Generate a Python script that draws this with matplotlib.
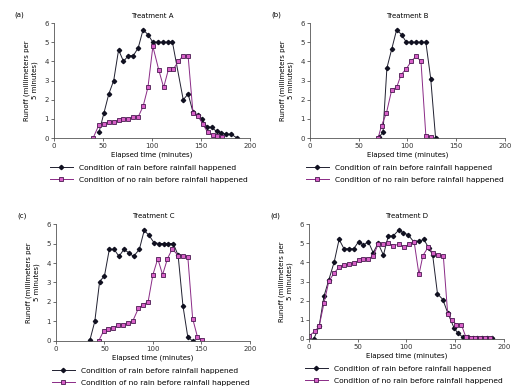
import matplotlib
matplotlib.use("Agg")
from matplotlib import pyplot as plt

# Treatment A
a_rain_t = [46, 51, 56, 61, 66, 71, 76, 81, 86, 91, 96, 101, 106, 111, 116, 121, 132, 137, 142, 147, 151, 156, 161, 166, 171, 176, 181, 187]
a_rain_v = [0.3, 1.3, 2.3, 3.0, 4.6, 4.0, 4.3, 4.3, 4.7, 5.65, 5.4, 5.0, 5.0, 5.0, 5.0, 5.0, 2.0, 2.3, 1.35, 1.2, 1.0, 0.6, 0.55, 0.35, 0.27, 0.2, 0.2, 0.0]
a_dry_t = [40, 46, 51, 56, 61, 66, 71, 76, 81, 86, 91, 96, 101, 107, 112, 117, 122, 127, 132, 137, 142, 147, 152, 157, 162, 167, 172]
a_dry_v = [0.0, 0.7, 0.72, 0.85, 0.85, 0.92, 1.0, 1.0, 1.1, 1.1, 1.65, 2.65, 4.78, 3.56, 2.64, 3.6, 3.6, 4.0, 4.3, 4.28, 1.3, 1.16, 0.73, 0.3, 0.14, 0.08, 0.05]

# Treatment B
b_rain_t = [71, 75, 79, 84, 89, 94, 99, 104, 109, 114, 119, 124, 129]
b_rain_v = [0.05, 0.3, 3.65, 4.65, 5.65, 5.4, 5.0, 5.0, 5.0, 5.0, 5.0, 3.1, 0.0]
b_dry_t = [70, 73.5, 78.5, 84, 89, 93.5, 99, 104, 109, 114, 119, 124]
b_dry_v = [0.0, 0.65, 1.3, 2.52, 2.64, 3.3, 3.62, 4.0, 4.27, 4.0, 0.12, 0.05]

# Treatment C
c_rain_t = [35, 40, 45, 50, 55, 60, 65, 70, 75, 80, 86, 91, 96, 101, 106, 111, 116, 121, 126, 131, 136, 141]
c_rain_v = [0.05, 1.0, 3.05, 3.34, 4.7, 4.7, 4.34, 4.7, 4.53, 4.34, 4.7, 5.67, 5.42, 5.05, 5.0, 5.0, 5.0, 5.0, 4.4, 1.8, 0.2, 0.0]
c_dry_t = [44, 49, 54, 59, 64, 69, 74, 79, 85, 90, 95, 100, 105, 110, 115, 120, 126, 131, 136, 141, 146, 151]
c_dry_v = [0.0, 0.5, 0.63, 0.67, 0.8, 0.84, 0.9, 1.0, 1.67, 1.87, 2.0, 3.4, 4.22, 3.4, 4.22, 4.73, 4.38, 4.38, 4.33, 1.15, 0.2, 0.05]

# Treatment D
d_rain_t = [5, 10.5, 15.5, 20.5, 26, 31, 36, 41, 46, 51, 56, 61, 66, 71, 76.5, 81.5, 86.5, 92, 97, 102, 108, 113, 118, 123, 127, 132, 137.5, 142.5, 149, 153, 158, 163, 168, 173, 178, 183, 188]
d_rain_v = [0.0, 0.66, 2.24, 3.1, 4.03, 5.2, 4.71, 4.71, 4.71, 5.08, 4.9, 5.08, 4.5, 5.0, 4.38, 5.38, 5.38, 5.67, 5.55, 5.43, 5.05, 5.1, 5.2, 4.75, 4.4, 2.36, 2.06, 1.36, 0.58, 0.3, 0.1, 0.08, 0.07, 0.05, 0.05, 0.04, 0.03]
d_dry_t = [0, 6, 10.5, 15.5, 20.5, 26, 31, 36, 41, 46, 51, 56, 61, 66, 71, 76.5, 81.5, 86.5, 92.5, 97.5, 103, 108, 113, 117, 122.5, 127, 133, 138, 142.5, 146.5, 151.5, 156.5, 161, 166, 171, 176, 181, 186]
d_dry_v = [0.15, 0.4, 0.66, 1.88, 3.02, 3.45, 3.75, 3.86, 3.9, 3.95, 4.1, 4.2, 4.2, 4.33, 4.94, 4.94, 5.0, 4.88, 4.94, 4.8, 4.94, 5.08, 3.37, 4.35, 4.8, 4.5, 4.38, 4.33, 1.3, 1.0, 0.75, 0.75, 0.12, 0.05, 0.05, 0.04, 0.04, 0.03]

panels = [
    ("(a)", "Treatment A", a_rain_t, a_rain_v, a_dry_t, a_dry_v),
    ("(b)", "Treatment B", b_rain_t, b_rain_v, b_dry_t, b_dry_v),
    ("(c)", "Treatment C", c_rain_t, c_rain_v, c_dry_t, c_dry_v),
    ("(d)", "Treatment D", d_rain_t, d_rain_v, d_dry_t, d_dry_v),
]

# axes boxes in figure fractions (left, bottom, width, height)
boxes = [
    [0.105, 0.647, 0.381, 0.294],
    [0.603, 0.647, 0.379, 0.294],
    [0.109, 0.128, 0.377, 0.299],
    [0.601, 0.133, 0.379, 0.294],
]

fs = 5.0
plt.rcParams['font.family'] = ['DejaVu Sans']
fig = plt.figure(figsize=(5.14, 3.91), dpi=100)

for (lab, title, rt, rv, dt, dv), box in zip(panels, boxes):
    ax = fig.add_axes(box)
    ax.plot(rt, rv, color='#202030', lw=0.7, marker='D', ms=2.2,
            mfc='#101020', mec='#101020', label='Condition of rain before rainfall happened')
    ax.plot(dt, dv, color='#8a2a86', lw=0.7, marker='s', ms=3.0,
            mfc='#d860c8', mec='#4a1a50', mew=0.6,
            label='Condition of no rain before rainfall happened')
    ax.set_xlim(0, 200)
    ax.set_ylim(0, 6)
    ax.set_xticks([0, 50, 100, 150, 200])
    ax.set_yticks(range(7))
    ax.spines['top'].set_visible(False)
    ax.spines['right'].set_visible(False)
    for s in ['left', 'bottom']:
        ax.spines[s].set_linewidth(0.6)
        ax.spines[s].set_color('#555555')
    ax.tick_params(labelsize=fs, length=2, width=0.5, pad=1.5, colors='#333333')
    ax.set_title(title, fontsize=fs, pad=4)
    ax.set_xlabel("Elapsed time (minutes)", fontsize=fs, labelpad=2)
    ax.set_ylabel("Runoff (millimeters per\n5 minutes)", fontsize=fs, labelpad=5)
    ax.text(-0.2, 1.06, lab, transform=ax.transAxes, fontsize=fs)
    ax.legend(loc='upper left', bbox_to_anchor=(-0.02, -0.23), frameon=False,
              fontsize=5.4, handlelength=3.0, handletextpad=0.8, labelspacing=0.75,
              borderpad=0, borderaxespad=0)

fig.savefig('out.png', dpi=100)
